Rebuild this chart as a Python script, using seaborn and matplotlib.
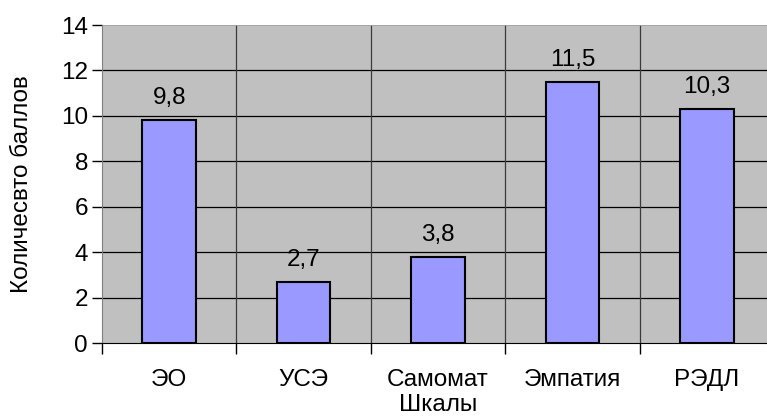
import matplotlib
matplotlib.use('Agg')
import matplotlib.pyplot as plt
import seaborn as sns
import pandas as pd

# Шкалы и средние баллы
scales = ['ЭО', 'УСЭ', 'Самомат', 'Эмпатия', 'РЭДЛ']
scores = [9.8, 2.7, 3.8, 11.5, 10.3]
y_ticks = [0, 2, 4, 6, 8, 10, 12, 14]

df = pd.DataFrame({'scale': scales, 'score': scores})

sns.set_style('white')
plt.rcParams['font.family'] = ['Liberation Sans', 'DejaVu Sans']
plt.rcParams['text.color'] = 'black'
plt.rcParams['axes.labelcolor'] = 'black'
plt.rcParams['xtick.color'] = 'black'
plt.rcParams['ytick.color'] = 'black'

fs = 17.5

fig = plt.figure(figsize=(7.67, 4.18), dpi=100)
ax = fig.add_axes([102 / 767, 75 / 418, 672 / 767, 318 / 418])
ax.set_facecolor('#C0C0C0')

sns.barplot(data=df, x='scale', y='score', color='#9999FF', width=0.4,
            edgecolor='black', linewidth=1.5, saturation=1, ax=ax, zorder=3)

ax.set_xlim(-0.5, len(scales) - 0.5)
ax.set_ylim(0, 14)
ax.set_yticks(y_ticks)

# сетка: горизонтальные линии и границы категорий
for y in y_ticks[1:-1]:
    ax.axhline(y, color='black', linewidth=0.9, zorder=1)
for i in range(1, len(scales)):
    ax.axvline(i - 0.5, color='#3a3a3a', linewidth=0.9, zorder=1)

for s in ['top', 'right']:
    ax.spines[s].set_visible(False)
ax.spines['left'].set_color('#808080')
ax.spines['bottom'].set_color('black')
ax.axhline(14, color='#a0a0a0', linewidth=1.2, zorder=2)

# деления по оси x на границах категорий
ax.set_xticks([i - 0.5 for i in range(len(scales) + 1)], minor=True)
ax.tick_params(axis='x', which='minor', length=8, width=1, color='black', direction='out')
ax.tick_params(axis='x', which='major', length=0, labelsize=fs, pad=19)
ax.tick_params(axis='y', length=7, width=1, color='black', direction='out', labelsize=fs, pad=3)
ax.tick_params(left=True, bottom=True, which='both')

ax.bar_label(ax.containers[0], labels=[f'{v:.1f}'.replace('.', ',') for v in scores],
             padding=8, fontsize=fs)

ax.set_xlabel('Шкалы', fontsize=fs, labelpad=2)
ax.set_ylabel('Количесвто баллов', fontsize=fs, labelpad=20)

fig.savefig('out.png', dpi=100)
